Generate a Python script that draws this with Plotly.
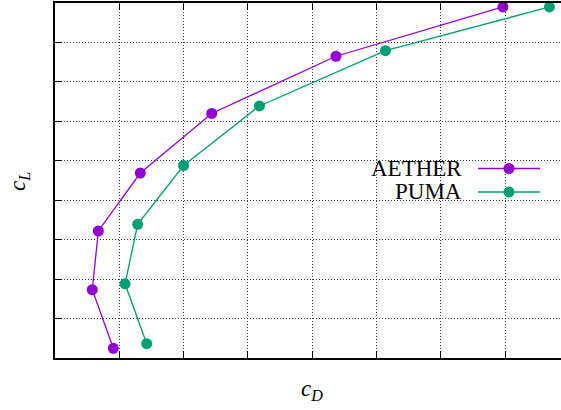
import plotly.graph_objects as go

# Drag polar: lift coefficient vs drag coefficient for two solvers
series_names = ["AETHER", "PUMA"]
aether_cd = [0.907, 0.58, 0.674, 1.327, 2.437, 4.37, 6.967]
aether_cl = [0.246, 1.73, 3.22, 4.69, 6.20, 7.65, 8.90]
puma_cd = [1.426, 1.089, 1.286, 2.0, 3.18, 5.14, 7.69]
puma_cl = [0.363, 1.88, 3.39, 4.88, 6.39, 7.79, 8.90]
colors = ["#9400d3", "#009e73"]

W, H = 561, 410
ML, MR, MT, MB = 55, 0, 3, 52
PW, PH = W - ML - MR, H - MT - MB

FONT = "Liberation Serif"


def px_x(px):
    return (px - ML) / PW


def px_y(py):
    return 1 - (py - MT) / PH


fig = go.Figure()
for name, xs, ys, c in zip(series_names, [aether_cd, puma_cd], [aether_cl, puma_cl], colors):
    fig.add_trace(go.Scatter(
        x=xs, y=ys, mode="lines+markers", name=name,
        line=dict(color=c, width=1.3),
        marker=dict(color=c, size=11),
        showlegend=False,
    ))

# Legend drawn gnuplot-style: right-aligned label, then a line sample with a marker
legend_rows = [168.5, 192]
for name, c, yrow in zip(series_names, colors, legend_rows):
    fig.add_annotation(
        x=px_x(464), y=px_y(yrow), xref="paper", yref="paper",
        text=name, showarrow=False, xanchor="right", yanchor="middle",
        font=dict(family=FONT, size=23, color="black"),
    )
    fig.add_shape(
        type="line", xref="paper", yref="paper",
        x0=px_x(478), x1=px_x(540), y0=px_y(yrow), y1=px_y(yrow),
        line=dict(color=c, width=1.3),
    )
    fig.add_shape(
        type="circle", xref="paper", yref="paper",
        xsizemode="pixel", ysizemode="pixel",
        xanchor=px_x(509), yanchor=px_y(yrow),
        x0=-5.5, x1=5.5, y0=-5.5, y1=5.5,
        fillcolor=c, line=dict(color=c, width=0),
    )

# Axis titles
fig.add_annotation(
    x=px_x(312), y=px_y(406), xref="paper", yref="paper",
    text="<i>c</i><sub><i>D</i></sub>", showarrow=False,
    font=dict(family=FONT, size=23, color="black"),
)
fig.add_annotation(
    x=px_x(3), y=px_y(182), xref="paper", yref="paper",
    text="<i>c</i><sub><i>L</i></sub>", showarrow=False, textangle=-90,
    font=dict(family=FONT, size=23, color="black"),
)

axis_common = dict(
    showticklabels=False, ticks="inside", ticklen=7, tickcolor="black", tickwidth=1,
    showgrid=True, gridcolor="rgba(0,0,0,0.8)", gridwidth=1, griddash="1px,2px",
    zeroline=False, showline=True, linecolor="black", linewidth=1.5,
    dtick=1, tick0=0,
)

fig.update_layout(
    width=W, height=H,
    margin=dict(l=ML, r=MR, t=MT, b=MB),
    paper_bgcolor="white", plot_bgcolor="white",
    xaxis=dict(range=[0, 7.87], mirror="ticks", **axis_common),
    yaxis=dict(range=[0, 9], mirror=False, **axis_common),
    font=dict(family=FONT),
)

fig.write_html("out.html")
